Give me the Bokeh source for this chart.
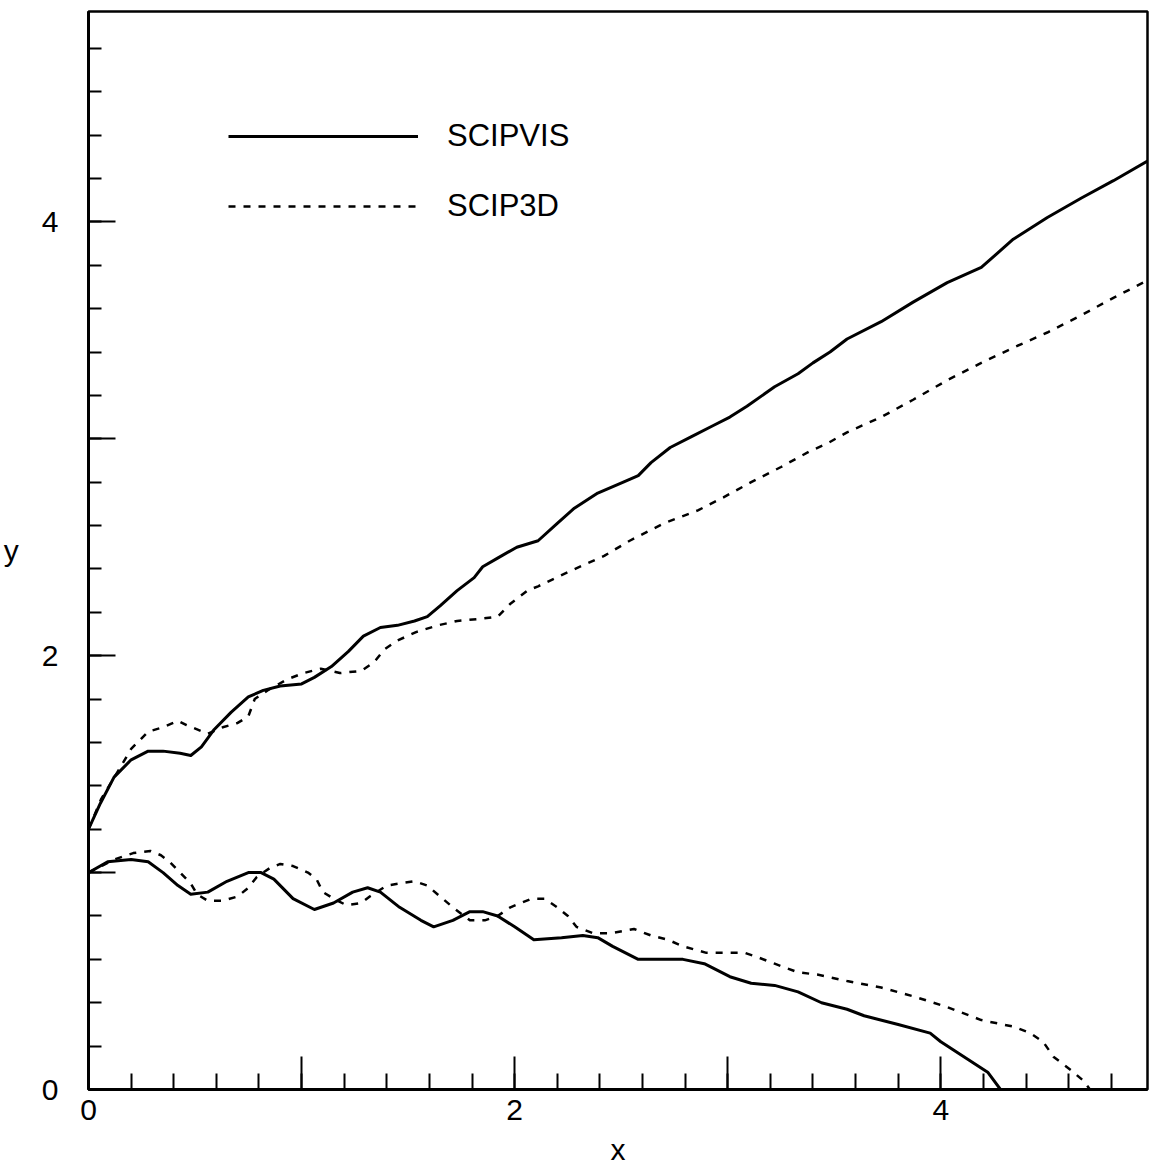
from bokeh.plotting import figure
from bokeh.models import Range1d, FixedTicker, Legend, LegendItem
from bokeh.embed import file_html
from bokeh.resources import INLINE

# SCIPVIS upper curve
vis_up_x = [0.00, 0.056, 0.12, 0.20, 0.28, 0.35, 0.43, 0.48, 0.53, 0.59, 0.67, 0.75, 0.82, 0.90, 1.00,
            1.06, 1.14, 1.22, 1.29, 1.37, 1.45, 1.53, 1.59, 1.65, 1.73, 1.81, 1.85, 1.92, 2.01, 2.11,
            2.20, 2.28, 2.39, 2.51, 2.58, 2.64, 2.73, 2.83, 2.93, 3.01, 3.09, 3.22, 3.33, 3.40, 3.48,
            3.56, 3.72, 3.87, 4.03, 4.19, 4.34, 4.50, 4.66, 4.81, 4.97]
vis_up_y = [1.20, 1.32, 1.44, 1.52, 1.56, 1.56, 1.55, 1.54, 1.58, 1.66, 1.74, 1.81, 1.84, 1.86, 1.87,
            1.90, 1.95, 2.02, 2.09, 2.13, 2.14, 2.16, 2.18, 2.23, 2.30, 2.36, 2.41, 2.45, 2.50, 2.53,
            2.61, 2.68, 2.75, 2.80, 2.83, 2.89, 2.96, 3.01, 3.06, 3.10, 3.15, 3.24, 3.30, 3.35, 3.40,
            3.46, 3.54, 3.63, 3.72, 3.79, 3.92, 4.02, 4.11, 4.19, 4.28]

# SCIP3D upper curve
s3d_up_x = [0.00, 0.06, 0.14, 0.20, 0.28, 0.35, 0.42, 0.46, 0.56, 0.63, 0.70, 0.75, 0.78, 0.84, 0.93,
            1.01, 1.09, 1.18, 1.28, 1.34, 1.39, 1.45, 1.54, 1.64, 1.73, 1.84, 1.92, 1.98, 2.06, 2.11,
            2.26, 2.42, 2.54, 2.70, 2.86, 2.98, 3.11, 3.25, 3.38, 3.47, 3.56, 3.72, 3.87, 4.03, 4.19,
            4.34, 4.50, 4.66, 4.81, 4.97]
s3d_up_y = [1.20, 1.34, 1.47, 1.57, 1.65, 1.67, 1.70, 1.68, 1.64, 1.67, 1.69, 1.72, 1.80, 1.84, 1.89,
            1.92, 1.94, 1.92, 1.93, 1.97, 2.03, 2.07, 2.11, 2.14, 2.16, 2.17, 2.18, 2.24, 2.30, 2.32,
            2.39, 2.46, 2.53, 2.61, 2.67, 2.73, 2.80, 2.87, 2.94, 2.98, 3.03, 3.10, 3.18, 3.27, 3.35,
            3.42, 3.49, 3.57, 3.65, 3.73]

# SCIPVIS lower curve
vis_lo_x = [0.00, 0.09, 0.20, 0.28, 0.35, 0.42, 0.48, 0.56, 0.65, 0.75, 0.81, 0.87, 0.96, 1.06, 1.15,
            1.24, 1.31, 1.37, 1.46, 1.56, 1.62, 1.71, 1.79, 1.85, 1.92, 2.00, 2.09, 2.22, 2.32, 2.39,
            2.46, 2.58, 2.70, 2.79, 2.89, 3.01, 3.11, 3.22, 3.33, 3.44, 3.56, 3.64, 3.80, 3.95, 4.00,
            4.11, 4.22, 4.28]
vis_lo_y = [1.00, 1.05, 1.06, 1.05, 1.00, 0.94, 0.90, 0.91, 0.96, 1.00, 1.00, 0.97, 0.88, 0.83, 0.86,
            0.91, 0.93, 0.91, 0.84, 0.78, 0.75, 0.78, 0.82, 0.82, 0.80, 0.75, 0.69, 0.70, 0.71, 0.70,
            0.66, 0.60, 0.60, 0.60, 0.58, 0.52, 0.49, 0.48, 0.45, 0.40, 0.37, 0.34, 0.30, 0.26, 0.22,
            0.15, 0.08, 0.00]

# SCIP3D lower curve
s3d_lo_x = [0.00, 0.12, 0.21, 0.29, 0.34, 0.38, 0.43, 0.48, 0.51, 0.56, 0.63, 0.70, 0.75, 0.79, 0.85,
            0.90, 0.96, 1.03, 1.07, 1.10, 1.15, 1.21, 1.28, 1.32, 1.40, 1.46, 1.53, 1.59, 1.65, 1.71,
            1.79, 1.86, 1.92, 1.98, 2.08, 2.14, 2.20, 2.25, 2.29, 2.37, 2.45, 2.56, 2.64, 2.72, 2.79,
            2.90, 3.01, 3.08, 3.14, 3.22, 3.33, 3.42, 3.56, 3.72, 3.87, 4.03, 4.19, 4.34, 4.42, 4.48,
            4.53, 4.61, 4.67, 4.70]
s3d_lo_y = [1.00, 1.06, 1.09, 1.10, 1.08, 1.05, 1.00, 0.95, 0.90, 0.87, 0.87, 0.89, 0.93, 0.98, 1.02,
            1.04, 1.03, 1.00, 0.97, 0.91, 0.88, 0.85, 0.86, 0.89, 0.94, 0.95, 0.96, 0.94, 0.89, 0.84,
            0.78, 0.78, 0.80, 0.84, 0.88, 0.88, 0.84, 0.80, 0.75, 0.72, 0.72, 0.74, 0.71, 0.69, 0.66,
            0.63, 0.63, 0.63, 0.61, 0.58, 0.54, 0.53, 0.50, 0.47, 0.43, 0.38, 0.32, 0.29, 0.26, 0.22,
            0.15, 0.09, 0.04, 0.00]

major_ticks = [0, 1, 2, 3, 4, 5]
tick_labels = {0: "0", 1: "", 2: "2", 3: "", 4: "4", 5: ""}
series_names = ["SCIPVIS", "SCIP3D"]

FONT = "Liberation Sans"

p = figure(frame_width=1059, frame_height=1078,
           x_range=Range1d(0, 4.97), y_range=Range1d(0, 4.97),
           output_backend="svg", toolbar_location=None,
           min_border_left=84, min_border_right=6, min_border_top=11, min_border_bottom=76,
           background_fill_color="white", border_fill_color="white")

p.grid.visible = False
p.outline_line_color = "black"
p.outline_line_width = 2.5

for ax, maj_in, min_in in ((p.xaxis[0], 33, 16), (p.yaxis[0], 27, 13)):
    ax.ticker = FixedTicker(ticks=major_ticks,
                            minor_ticks=[i * 0.2 for i in range(0, 26)])
    ax.major_label_overrides = tick_labels
    ax.major_tick_in = maj_in
    ax.major_tick_out = 0
    ax.minor_tick_in = min_in
    ax.minor_tick_out = 0
    ax.major_tick_line_width = 2
    ax.minor_tick_line_width = 2
    ax.major_tick_line_color = "black"
    ax.minor_tick_line_color = "black"
    ax.axis_line_width = 3
    ax.axis_line_color = "black"
    ax.major_label_text_font = FONT
    ax.major_label_text_font_size = "30px"
    ax.major_label_text_color = "black"
    ax.axis_label_text_font = FONT
    ax.axis_label_text_font_size = "30px"
    ax.axis_label_text_font_style = "normal"
    ax.axis_label_text_color = "black"

p.xaxis.axis_label = "x"
p.xaxis.major_label_standoff = 10
p.xaxis.axis_label_standoff = 10
p.yaxis.axis_label = "y"
p.yaxis.major_label_standoff = 30
p.yaxis.axis_label_standoff = 20
p.yaxis.axis_label_orientation = "horizontal"

r1 = p.line(vis_up_x, vis_up_y, line_color="black", line_width=3, line_join="round")
p.line(vis_lo_x, vis_lo_y, line_color="black", line_width=3, line_join="round")
r2 = p.line(s3d_up_x, s3d_up_y, line_color="black", line_width=2.5, line_dash="7 8", line_join="round")
p.line(s3d_lo_x, s3d_lo_y, line_color="black", line_width=2.5, line_dash="7 8", line_join="round")

legend = Legend(items=[LegendItem(label=series_names[0], renderers=[r1]),
                       LegendItem(label=series_names[1], renderers=[r2])],
                location=(140, 863), border_line_color=None, background_fill_alpha=0,
                padding=0, margin=0, spacing=30, glyph_width=190, glyph_height=40,
                label_height=40, label_standoff=29, label_text_font=FONT,
                label_text_font_size="31px", label_text_color="black",
                label_text_baseline="middle")
p.add_layout(legend)

open("out.html", "w").write(file_html(p, INLINE))
